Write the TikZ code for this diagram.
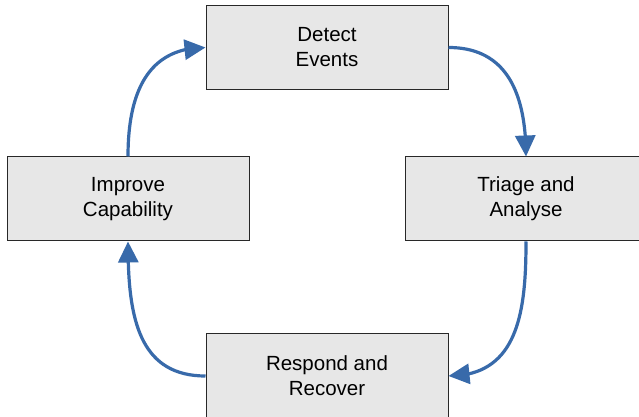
\documentclass[tikz,border=0pt]{standalone}
\usepackage{fontspec}
\setmainfont{Liberation Sans}
\usetikzlibrary{arrows.meta,bending}
\definecolor{flowblue}{RGB}{56,106,170}
\definecolor{boxfill}{RGB}{231,231,231}
\definecolor{boxline}{RGB}{40,40,40}
\tikzset{
  stagebox/.style={draw=boxline, line width=1pt, fill=boxfill,
    minimum width=242pt, minimum height=84pt, inner sep=0pt,
    align=center, font=\fontsize{20.5pt}{25pt}\selectfont},
  flow/.style={draw=flowblue, line width=3.2pt,
    -{Triangle[length=21pt,width=20pt]}}
}
\begin{document}
\begin{tikzpicture}[x=1pt,y=1pt]
\clip (0,0) rectangle (639,417);
\fill[white] (0,0) rectangle (639,417);
\node[stagebox] (detect)  at (327,369.5) {Detect\\Events};
\node[stagebox] (triage)  at (526,218)   {Triage and\\Analyse};
\node[stagebox] (improve) at (128,218)   {Improve\\Capability};
\node[stagebox] (respond) at (327,41)    {Respond and\\Recover};
\draw[flow] (detect.east) to[out=0,in=90,looseness=1.15] (triage.north);
\draw[flow] (triage.south) to[out=-90,in=0,looseness=1.15] (respond.east);
\draw[flow] (respond.west) to[out=180,in=-90,looseness=1.15] (improve.south);
\draw[flow] (improve.north) to[out=90,in=180,looseness=1.15] (detect.west);
\end{tikzpicture}
\end{document}
